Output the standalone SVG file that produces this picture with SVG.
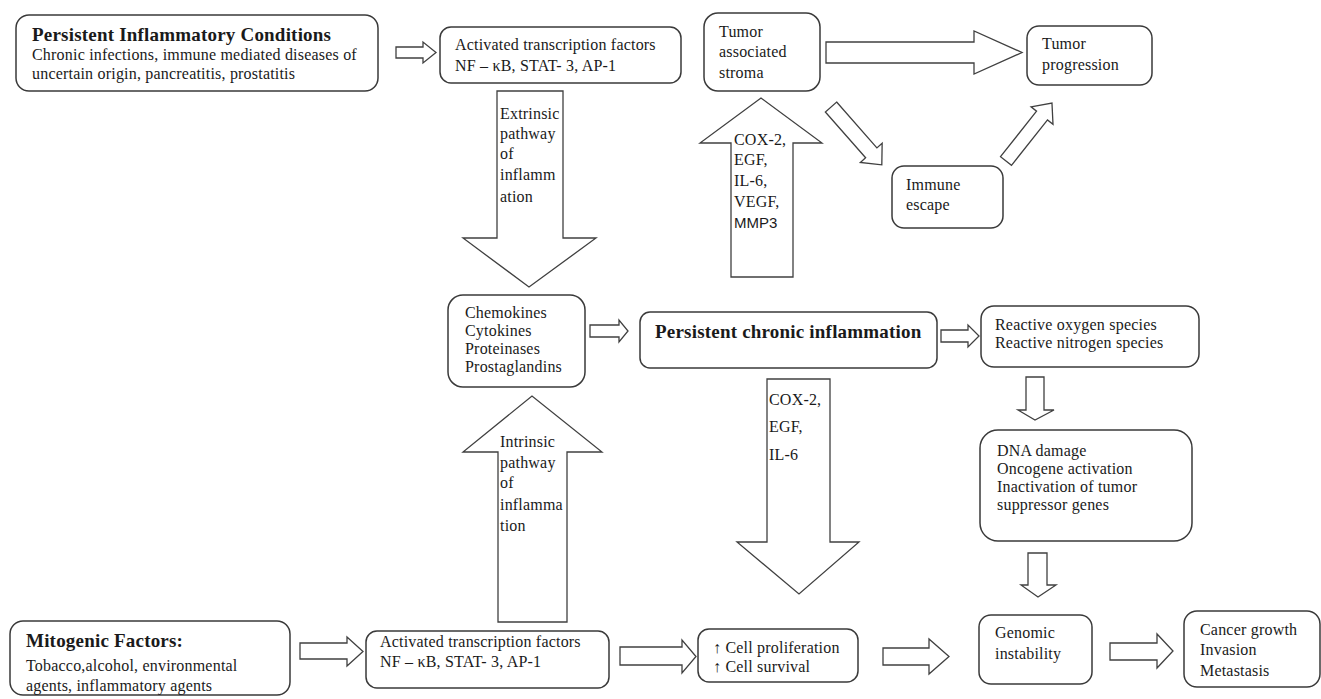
<svg xmlns="http://www.w3.org/2000/svg" width="1321" height="699" viewBox="0 0 1321 699">
<style>
.box{fill:#fff;stroke:#3a3a3a;stroke-width:1.5}
.arr{fill:#fff;stroke:#404040;stroke-width:1.3;stroke-linejoin:miter}
.t{font-family:"Liberation Serif","Times New Roman",serif;font-size:16px;fill:#1a1a1a;letter-spacing:0.2px}
.b{font-weight:bold;font-size:19px}
.s{font-family:"Liberation Sans",Arial,sans-serif;font-size:15px;letter-spacing:0}
</style>
<rect width="1321" height="699" fill="#fff"/>
<g id="connectors">
<path class="arr" d="M396,47 L423,47 L423,42 L436,52.5 L423,63 L423,58 L396,58 Z"/>
<path class="arr" d="M497,91 L563,91 L563,238 L596,238 L529,287 L463,238 L497,238 Z"/>
<path class="arr" d="M826,42 L974,42 L974,31 L1022,52.5 L974,74 L974,63 L826,63 Z"/>
<path class="arr" d="M731,277 L731,143 L700,143 L761,98 L822,143 L793,143 L793,277 Z"/>
<path class="arr" transform="translate(831,107) rotate(48.7)" d="M0,-7.5 L61,-7.5 L61,-14.5 L77,0 L61,14.5 L61,7.5 L0,7.5 Z"/>
<path class="arr" transform="translate(1006,161) rotate(-51.6)" d="M0,-7 L58,-7 L58,-14 L74,0 L58,14 L58,7 L0,7 Z"/>
<path class="arr" d="M590,325 L619,325 L619,320 L628,331 L619,342 L619,337 L590,337 Z"/>
<path class="arr" d="M498,622 L498,452 L463,452 L532,396 L602,452 L567,452 L567,622 Z"/>
<path class="arr" d="M941,330 L968,330 L968,325 L979,336 L968,347 L968,342 L941,342 Z"/>
<path class="arr" d="M767,379 L830,379 L830,542 L859,542 L799,594 L737,542 L767,542 Z"/>
<path class="arr" d="M1026,377 L1044,377 L1044,410 L1054,410 L1035,420 L1018,410 L1026,410 Z"/>
<path class="arr" d="M1028,553 L1047,553 L1047,585 L1056,585 L1038,597 L1021,585 L1028,585 Z"/>
<path class="arr" d="M300,643 L347,643 L347,637 L363,651.5 L347,666 L347,659 L300,659 Z"/>
<path class="arr" d="M620,647 L682,647 L682,640 L696,656.5 L682,673 L682,665 L620,665 Z"/>
<path class="arr" d="M883,648 L929,648 L929,639 L949,656.5 L929,674 L929,665 L883,665 Z"/>
<path class="arr" d="M1110,643 L1157,643 L1157,634 L1173,651 L1157,668 L1157,660 L1110,660 Z"/>
</g>
<g id="arrow-labels" class="t">
<text x="500" y="119">Extrinsic</text>
<text x="500" y="139">pathway</text>
<text x="500" y="159">of</text>
<text x="500" y="180">inflamm</text>
<text x="500" y="202">ation</text>
<text x="734" y="145">COX-2,</text>
<text x="734" y="165">EGF,</text>
<text x="734" y="186">IL-6,</text>
<text x="734" y="207">VEGF,</text>
<text x="734" y="228" class="s">MMP3</text>
<text x="500" y="447">Intrinsic</text>
<text x="500" y="468">pathway</text>
<text x="500" y="488">of</text>
<text x="500" y="510">inflamma</text>
<text x="500" y="531">tion</text>
<text x="769" y="405">COX-2,</text>
<text x="769" y="432">EGF,</text>
<text x="769" y="460">IL-6</text>
</g>
<g id="persistent-inflammatory-conditions">
<rect class="box" x="16" y="15" width="362" height="76" rx="13"/>
<text class="t b" x="32" y="41">Persistent Inflammatory Conditions</text>
<text class="t" x="32" y="60">Chronic infections, immune mediated diseases of</text>
<text class="t" x="32" y="79">uncertain origin, pancreatitis, prostatitis</text>
</g>
<g id="activated-tf-top">
<rect class="box" x="440" y="27" width="241" height="56" rx="11"/>
<text class="t" x="455" y="50">Activated transcription factors</text>
<text class="t" x="455" y="71">NF – κB, STAT- 3, AP-1</text>
</g>
<g id="tumor-associated-stroma">
<rect class="box" x="704" y="13" width="116" height="78" rx="14"/>
<text class="t" x="719" y="37">Tumor</text>
<text class="t" x="719" y="57">associated</text>
<text class="t" x="719" y="78">stroma</text>
</g>
<g id="tumor-progression">
<rect class="box" x="1027" y="26" width="125" height="59" rx="12"/>
<text class="t" x="1042" y="49">Tumor</text>
<text class="t" x="1042" y="70">progression</text>
</g>
<g id="immune-escape">
<rect class="box" x="892" y="166" width="111" height="62" rx="12"/>
<text class="t" x="906" y="190">Immune</text>
<text class="t" x="906" y="210">escape</text>
</g>
<g id="chemokines">
<rect class="box" x="448" y="295" width="137" height="92" rx="15"/>
<text class="t" x="465" y="318">Chemokines</text>
<text class="t" x="465" y="336">Cytokines</text>
<text class="t" x="465" y="354">Proteinases</text>
<text class="t" x="465" y="372">Prostaglandins</text>
</g>
<g id="persistent-chronic-inflammation">
<rect class="box" x="640" y="312" width="297" height="56" rx="10"/>
<text class="t b" x="655" y="338">Persistent chronic inflammation</text>
</g>
<g id="reactive-species">
<rect class="box" x="981" y="306" width="218" height="61" rx="13"/>
<text class="t" x="995" y="330">Reactive oxygen species</text>
<text class="t" x="995" y="348">Reactive nitrogen species</text>
</g>
<g id="dna-damage">
<rect class="box" x="980" y="430" width="212" height="111" rx="18"/>
<text class="t" x="997" y="456">DNA damage</text>
<text class="t" x="997" y="474">Oncogene activation</text>
<text class="t" x="997" y="492">Inactivation of tumor</text>
<text class="t" x="997" y="510">suppressor genes</text>
</g>
<g id="genomic-instability">
<rect class="box" x="979" y="615" width="113" height="69" rx="12"/>
<text class="t" x="995" y="638">Genomic</text>
<text class="t" x="995" y="659">instability</text>
</g>
<g id="cancer-growth">
<rect class="box" x="1184" y="611" width="136" height="76" rx="13"/>
<text class="t" x="1200" y="635">Cancer growth</text>
<text class="t" x="1200" y="655">Invasion</text>
<text class="t" x="1200" y="676">Metastasis</text>
</g>
<g id="cell-proliferation">
<rect class="box" x="698" y="629" width="160" height="53" rx="11"/>
<text class="t" x="713" y="653">↑ Cell proliferation</text>
<text class="t" x="713" y="672">↑ Cell survival</text>
</g>
<g id="activated-tf-bottom">
<rect class="box" x="366" y="631" width="243" height="57" rx="11"/>
<text class="t" x="380" y="647">Activated transcription factors</text>
<text class="t" x="380" y="667">NF – κB, STAT- 3, AP-1</text>
</g>
<g id="mitogenic-factors">
<rect class="box" x="10" y="621" width="280" height="74" rx="13"/>
<text class="t b" x="26" y="647">Mitogenic Factors:</text>
<text class="t" x="26" y="671">Tobacco,alcohol, environmental</text>
<text class="t" x="26" y="691">agents, inflammatory agents</text>
</g>
</svg>
